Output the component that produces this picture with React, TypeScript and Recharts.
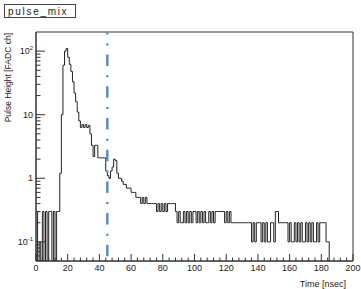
import React from 'react';
import { LineChart, Line, XAxis, YAxis, ReferenceLine, ReferenceArea } from 'recharts';

// pulse height per 1 nsec bin (bins 0..199)
const noiseCounts = [0.3, 0, 0.1, 0, 0.3, 0, 0.3, 0, 0.3, 0.3, 0, 0.3, 0, 0.3, 0.3];
const peakCounts = [1.2, 10, 60, 100, 110, 80, 62, 48, 33, 22, 16, 11, 8];
const decayCounts = [
  6.3, 7.0, 6.3, 7.0, 6.3, 6.8, 5.0, 3.3, 2.2, 3.3,
  3.3, 2.1, 2.1, 2.1, 2.1, 2.1, 1.3, 1.1, 1.0, 1.3,
  1.5, 2.0, 1.9, 1.2, 1.0, 1.0, 0.9, 0.8, 0.8, 0.7,
  0.7, 0.7, 0.6, 0.6, 0.6, 0.5, 0.5, 0.5, 0.4, 0.5,
  0.4, 0.5, 0.4, 0.4, 0.4, 0.4, 0.4, 0.4, 0.3, 0.4,
  0.3, 0.4, 0.3, 0.4, 0.3, 0.4, 0.4,
];
const tailCounts = [
  0.4, 0.4, 0.4, 0.3, 0.2, 0.3, 0.2, 0.2, 0.3, 0.2,
  0.3, 0.2, 0.3, 0.2, 0.3, 0.3, 0.2, 0.3, 0.2, 0.3,
  0.2, 0.3, 0.2, 0.2, 0.3, 0.2, 0.3, 0.2, 0.3, 0.3,
  0.3, 0.3, 0.3, 0.3, 0.2, 0.3, 0.2, 0.3, 0.2, 0.2,
  0.2, 0.2, 0.2, 0.2, 0.2, 0.2, 0.2, 0.2, 0.2, 0.2,
  0.2, 0.1, 0.2, 0.1, 0.2, 0.2, 0.2, 0.1, 0.2, 0.1,
  0.2, 0.1, 0.1, 0.2, 0.2, 0.1, 0.3, 0.3, 0.2, 0.2,
  0.2, 0.2, 0.2, 0.2, 0.1, 0.2, 0.1, 0.1, 0.2, 0.1,
  0.2, 0.1, 0.2, 0.1, 0.1, 0.2, 0.1, 0.2, 0.1, 0.2,
  0.1, 0.1, 0.2, 0.1, 0.2, 0.2, 0.2, 0.2, 0.1, 0.1,
  0, 0, 0, 0, 0, 0, 0, 0, 0, 0,
  0, 0, 0, 0, 0,
];

const cutTime = 45;

const xTicks = [
  0, 4, 8, 12, 16, 20, 24, 28, 32, 36, 40, 44, 48, 52, 56, 60, 64, 68, 72, 76, 80,
  84, 88, 92, 96, 100, 104, 108, 112, 116, 120, 124, 128, 132, 136, 140, 144, 148,
  152, 156, 160, 164, 168, 172, 176, 180, 184, 188, 192, 196, 200,
];
const yTicks = [
  0.06, 0.07, 0.08, 0.09, 0.1, 0.2, 0.3, 0.4, 0.5, 0.6, 0.7, 0.8, 0.9,
  1, 2, 3, 4, 5, 6, 7, 8, 9, 10, 20, 30, 40, 50, 60, 70, 80, 90, 100,
];
const yLabels: Record<string, [string, string]> = {
  '0.1': ['10', '-1'],
  '1': ['1', ''],
  '10': ['10', ''],
  '100': ['10', '2'],
};

const Y_MIN = 0.05;
const Y_MAX = 200;
const FONT = '"Liberation Sans", Arial, Helvetica, sans-serif';

const counts = [...noiseCounts, ...peakCounts, ...decayCounts, ...tailCounts];
// empty bins fall below the log axis and get clipped, like ROOT does
const data = counts.map((c, i) => ({ t: i, h: c > 0 ? c : 0.01 }));
data.push({ t: counts.length, h: data[data.length - 1].h });

const XTick = ({ x, y, payload }: any) => {
  const major = payload.value % 20 === 0;
  return (
    <g>
      <line x1={x} x2={x} y1={y} y2={y - (major ? 7 : 3.5)} stroke="#333" />
      {major && (
        <text x={x} y={y + 10} textAnchor="middle" fontSize={9} fill="#222" fontFamily={FONT}>
          {payload.value}
        </text>
      )}
    </g>
  );
};

const YTick = ({ x, y, payload }: any) => {
  const lab = yLabels[String(payload.value)];
  return (
    <g>
      <line x1={x} x2={x + (lab ? 9 : 4.5)} y1={y} y2={y} stroke="#333" />
      {lab && (
        <text x={x - 3} y={y + 3} textAnchor="end" fontSize={9} fill="#222" fontFamily={FONT}>
          {lab[0]}
          {lab[1] && (
            <tspan dy={-4} fontSize={6}>
              {lab[1]}
            </tspan>
          )}
        </text>
      )}
    </g>
  );
};

export default function App() {
  return (
    <div style={{ position: 'fixed', left: 0, top: 0, width: 361, height: 289, background: '#fff' }}>
      <LineChart width={361} height={289} data={data} margin={{ top: 32, right: 8, bottom: 0, left: 0 }}>
        <XAxis
          dataKey="t"
          type="number"
          domain={[0, 200]}
          ticks={xTicks}
          interval={0}
          height={28}
          tickSize={0}
          tickMargin={0}
          tick={<XTick />}
          axisLine={{ stroke: '#333' }}
        />
        <YAxis
          scale="log"
          domain={[Y_MIN, Y_MAX]}
          allowDataOverflow
          ticks={yTicks}
          interval={0}
          width={36}
          tickSize={0}
          tickMargin={0}
          tick={<YTick />}
          axisLine={{ stroke: '#333' }}
        />
        <ReferenceArea x1={0} x2={200} y1={Y_MIN} y2={Y_MAX} fill="none" stroke="#333" />
        <Line
          dataKey="h"
          type="stepAfter"
          stroke="#222"
          strokeWidth={1}
          dot={false}
          isAnimationActive={false}
        />
        <ReferenceLine
          x={cutTime}
          stroke="#5a8ccc"
          strokeWidth={2.5}
          strokeDasharray="11.5 9 2 9.2"
          strokeDashoffset={27}
        />
      </LineChart>
      <svg width={361} height={289} style={{ position: 'absolute', left: 0, top: 0, pointerEvents: 'none' }}>
        <rect x={4.5} y={4.5} width={71} height={13} fill="#fff" stroke="#444" />
        <text x={8} y={14.5} fontSize={10} letterSpacing={1.7} fill="#222" fontFamily={FONT}>
          pulse_mix
        </text>
        <text transform="translate(10.5,33) rotate(-90)" textAnchor="end" fontSize={8.5} fill="#222" fontFamily={FONT}>
          Pulse Height [FADC ch]
        </text>
        <text x={346} y={287} textAnchor="end" fontSize={9} fill="#222" fontFamily={FONT}>
          Time [nsec]
        </text>
      </svg>
    </div>
  );
}
